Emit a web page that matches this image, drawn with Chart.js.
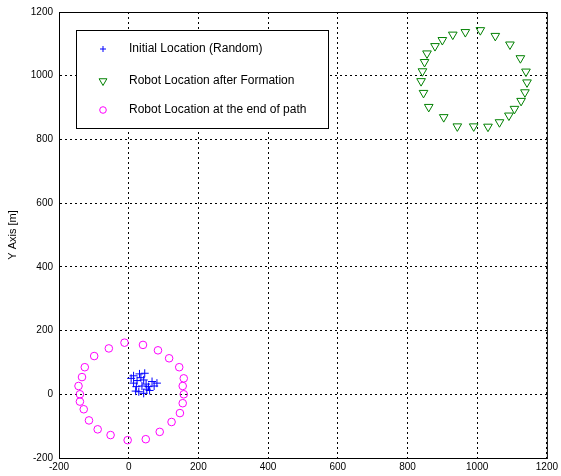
<!DOCTYPE html>
<html>
<head>
<meta charset="utf-8">
<script src="https://cdn.jsdelivr.net/npm/chart.js@4/dist/chart.umd.min.js"></script>
<style>
  html, body { margin: 0; padding: 0; background: #fff; }
  #wrap { position: relative; width: 561px; height: 476px; }
</style>
</head>
<body>
<div id="wrap"><canvas id="c"></canvas></div>
<script>
// --- data ---
const initX = [14, 31, 46, 24, 43, 67, 81, 22, 38, 57, 73, 29, 43, 14, 52, 7, 35, 60, 20, 50];
const initY = [58, 64, 66, 43, 45, 40, 35, 24, 26, 24, 26, 8, 3, 35, 16, 50, 52, 12, 10, 32];

const formX = [1009, 966, 930, 900, 879, 856, 849, 843, 839, 846, 861, 904, 943, 990, 1031, 1064, 1091, 1107, 1126, 1137, 1143, 1140, 1124, 1094, 1052];
const formY = [1143, 1137, 1129, 1112, 1093, 1070, 1043, 1014, 983, 946, 902, 870, 841, 841, 840, 854, 875, 896, 921, 948, 979, 1013, 1055, 1098, 1125];

const endX = [-12, 41, 84, 116, 145, 158, 155, 158, 155, 147, 123, 89, 49, -3, -52, -89, -114, -129, -140, -140, -144, -134, -126, -99, -57];
const endY = [162, 155, 138, 113, 85, 50, 26, 0, -28, -59, -87, -118, -141, -144, -128, -110, -82, -47, -23, 0, 26, 54, 85, 120, 144];

const seriesLabels = ["Initial Location (Random)", "Robot Location after Formation", "Robot Location at the end of path"];
const axisTicks = [-200, 0, 200, 400, 600, 800, 1000, 1200];
const yTitle = "Y Axis [m]";

const pts = (xs, ys) => xs.map((x, i) => ({ x, y: ys[i] }));

const family = "Arial, 'Liberation Sans', sans-serif";
const tickFont = { family, size: 10 };

// box round the plot area + legend inside it (matlab look)
const boxLegend = {
  id: "boxLegend",
  afterDraw(chart) {
    const { ctx, chartArea: a } = chart;
    ctx.save();
    ctx.strokeStyle = "#000";
    ctx.lineWidth = 1;
    ctx.strokeRect(a.left + 0.5, a.top + 0.5, a.right - a.left, a.bottom - a.top);

    const lx = a.left + 17, ly = a.top + 18, lw = 252, lh = 98;
    ctx.fillStyle = "#fff";
    ctx.fillRect(lx, ly, lw, lh);
    ctx.strokeRect(lx + 0.5, ly + 0.5, lw, lh);

    const rows = [19, 51, 80];
    ctx.font = "12px " + family;
    ctx.textBaseline = "middle";
    chart.data.datasets.forEach((ds, i) => {
      const y = ly + rows[i];
      ctx.strokeStyle = ds.borderColor;
      ctx.fillStyle = "rgba(0,0,0,0)";
      ctx.lineWidth = 1;
      Chart.helpers.drawPoint(ctx, {
        pointStyle: ds.pointStyle,
        radius: ds.pointStyle === "cross" ? 3 : ds.pointRadius - 0.5,
        rotation: ds.rotation || 0,
        borderWidth: 1,
      }, lx + 27, y);
      ctx.fillStyle = "#000";
      ctx.fillText(ds.label, lx + 53, y);
    });
    ctx.restore();
  },
};

new Chart(document.getElementById("c"), {
  type: "scatter",
  data: {
    datasets: [
      { label: seriesLabels[0], data: pts(initX, initY), pointStyle: "cross", pointRadius: 4, borderColor: "#0000ff", backgroundColor: "#0000ff", borderWidth: 1 },
      { label: seriesLabels[1], data: pts(formX, formY), pointStyle: "triangle", rotation: 180, pointRadius: 5, borderColor: "#008000", backgroundColor: "transparent", borderWidth: 1 },
      { label: seriesLabels[2], data: pts(endX, endY), pointStyle: "circle", pointRadius: 3.8, borderColor: "#ff00ff", backgroundColor: "transparent", borderWidth: 1 },
    ],
  },
  options: {
    responsive: true,
    maintainAspectRatio: false,
    animation: false,
    layout: { padding: { left: 0, right: 12, top: 12, bottom: 0 } },
    plugins: { legend: { display: false }, tooltip: { enabled: false } },
    elements: { point: { hoverRadius: 4 } },
    scales: {
      x: {
        type: "linear", min: -200, max: 1200,
        afterBuildTicks: (s) => { s.ticks = axisTicks.map((v) => ({ value: v })); },
        afterFit: (s) => { s.height = 18; },
        grid: { color: "#000", drawTicks: false, lineWidth: 1 },
        border: { color: "#000", dash: [2, 3] },
        ticks: { color: "#000", font: tickFont, padding: 3, maxRotation: 0, callback: (v) => String(v) },
      },
      y: {
        type: "linear", min: -200, max: 1200,
        afterBuildTicks: (s) => { s.ticks = axisTicks.map((v) => ({ value: v })); },
        afterFit: (s) => { s.width = 59; },
        grid: { color: "#000", drawTicks: false, lineWidth: 1 },
        border: { color: "#000", dash: [2, 3] },
        ticks: { color: "#000", font: tickFont, padding: 6, callback: (v) => String(v) },
        title: { display: true, text: yTitle, color: "#000", font: { family, size: 11 }, padding: { top: 6, bottom: 0 } },
      },
    },
  },
  plugins: [boxLegend],
});
</script>
</body>
</html>
